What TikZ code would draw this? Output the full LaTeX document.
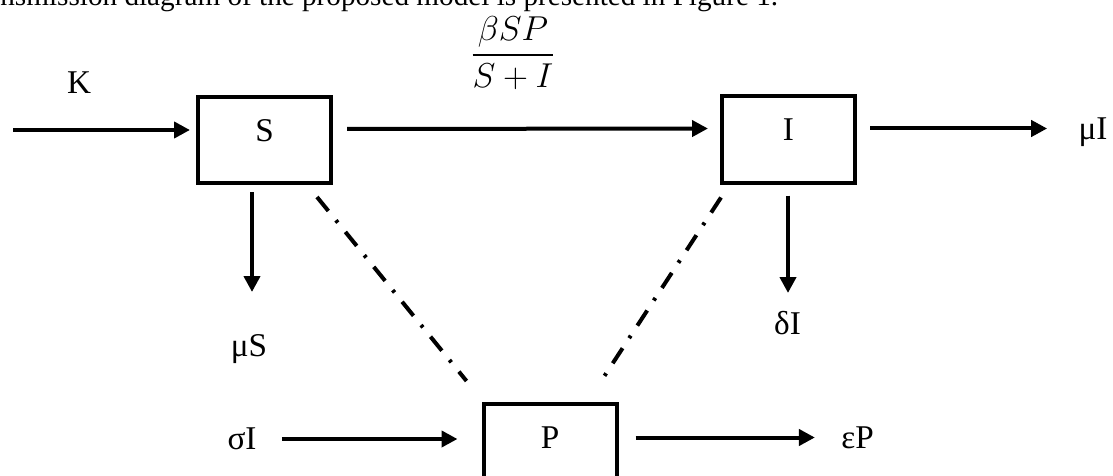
\documentclass[tikz,border=0pt]{standalone}
\usepackage{amsmath}
\usepackage{fontspec}
\setmainfont{Liberation Serif}
\usepackage{tikz}
\usetikzlibrary{arrows.meta}

\begin{document}
\begin{tikzpicture}[x=0.5pt, y=-0.5pt, >={Triangle[length=8pt,width=8pt]},
	every node/.style={font=\fontsize{16.6}{20}\selectfont},
	box/.style={draw, line width=2pt, minimum width=66.5pt, minimum height=43pt, text height=11pt, text depth=10pt, inner sep=0pt},
	lbl/.style={inner sep=0pt},
	flow/.style={->, line width=2pt},
	link/.style={line width=2pt, dash pattern=on 9pt off 6pt on 1.5pt off 6pt}]

\useasboundingbox (0,0) rectangle (1113,476);
\clip (0,0) rectangle (1113,476);

% line of the text above, cut at the top
\node[lbl, anchor=base west, font=\fontsize{14.6}{17}\selectfont] (intro) at (0,6) {nsmission diagram of the proposed model is presented in Figure 1.};

\foreach \n/\x/\y in {S/264.5/140, I/788.5/139.5, P/550/447}
{
	\node[box] (\n) at (\x,\y) {\n};
}

\node[lbl] (K) at (79,82.5) {K};
\node[lbl] (rate) at (513,53) {$\dfrac{\beta SP}{S+I}$};
\node[lbl] (muI) at (1093,132.5) {μI};
\node[lbl] (muS) at (249,349) {μS};
\node[lbl] (dI) at (787.5,323.5) {δI};
\node[lbl] (sI) at (242,439) {σI};
\node[lbl] (eP) at (857.5,437.5) {εP};

\coordinate (kin) at (13,130);
\coordinate (Sdn) at (252,292);
\coordinate (Idn) at (788,293);

\draw[flow, shorten >=3pt] (kin) -- ([yshift=5pt]S.west);
\draw[flow, shorten <=7pt, shorten >=6pt] ([yshift=5.5pt]S.east) -- ([yshift=5.5pt]I.west);
\draw[flow, shorten <=6.5pt, shorten >=15.5pt] ([yshift=5.5pt]I.east) -- ([yshift=5.5pt]I.east -| muI.west);
\draw[flow, shorten <=3.5pt] (S.south -| Sdn) -- (Sdn);
\draw[flow, shorten <=5.5pt] (I.south -| Idn) -- (Idn);
\draw[flow, shorten <=12.5pt, shorten >=12pt] (sI.east) -- (sI.east -| P.west);
\draw[flow, shorten <=8.5pt, shorten >=13pt] (P.east |- eP.west) -- (eP.west);

\draw[link] ([xshift=-8pt,yshift=-6pt]S.south east) -- ([xshift=-7.5pt,yshift=10.5pt]P.north west);
\draw[link] ([xshift=0.5pt,yshift=-6.5pt]I.south west) -- ([xshift=-9pt,yshift=10pt]P.north east);

\end{tikzpicture}
\end{document}
